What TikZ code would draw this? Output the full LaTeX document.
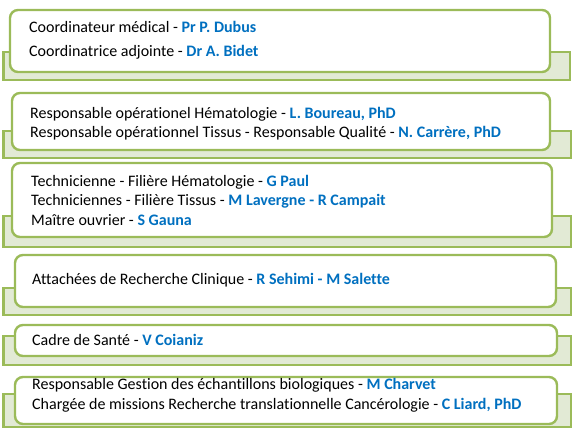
\documentclass[tikz,border=0pt]{standalone}
\usepackage{fontspec}
\setmainfont{Carlito}[Ligatures={NoCommon}]
\definecolor{boxgreen}{HTML}{9BBB59}
\definecolor{backfill}{HTML}{E2EAD5}
\definecolor{nameblue}{HTML}{0070C0}
\newcommand{\nm}[1]{\textcolor{nameblue}{\textbf{#1}}}
\begin{document}
\begin{tikzpicture}[x=1pt,y=-1pt,
  backbox/.style={draw=boxgreen,fill=backfill,line width=2.4pt},
  frontbox/.style={draw=boxgreen,fill=white,line width=2.4pt,rounded corners=8pt},
  txt/.style={anchor=base west,inner sep=0pt,font=\fontsize{16}{19}\selectfont,text=black}]
\useasboundingbox (0,0) rectangle (580,434);
% box 1
\draw[backbox] (3.5,52) rectangle (570,80);
\draw[frontbox] (10,10) rectangle (550,72);
\node[txt] (t11) at (29,32.5) {Coordinateur médical - \nm{Pr P. Dubus}};
\node[txt] (t12) at (29,56.5) {Coordinatrice adjointe - \nm{Dr A. Bidet}};
% box 2
\draw[backbox] (3.5,131) rectangle (571,158);
\draw[frontbox] (12,93) rectangle (550,150);
\node[txt] (t21) at (30,118) {Responsable opérationel Hématologie - \nm{L. Boureau, PhD}};
\node[txt] (t22) at (30,137) {Responsable opérationnel Tissus - Responsable Qualité - \nm{N. Carrère, PhD}};
% box 3
\draw[backbox] (3.5,216) rectangle (571,247);
\draw[frontbox] (12,163) rectangle (552,237);
\node[txt] (t31) at (31,186) {Technicienne - Filière Hématologie - \nm{G Paul}};
\node[txt] (t32) at (31,205.5) {Techniciennes - Filière Tissus - \nm{M Lavergne - R Campait}};
\node[txt] (t33) at (31,225) {Maître ouvrier - \nm{S Gauna}};
% box 4
\draw[backbox] (3.5,288) rectangle (571,315);
\draw[frontbox] (15,255) rectangle (556,307);
\node[txt] (t41) at (32,284) {Attachées de Recherche Clinique - \nm{R Sehimi - M Salette}};
% box 5
\draw[backbox] (3.5,336) rectangle (571,365);
\draw[frontbox] (15,325) rectangle (557,356);
\node[txt] (t51) at (32,345) {Cadre de Santé - \nm{V Coianiz}};
% box 6
\draw[backbox] (3.5,394) rectangle (571,427);
\draw[frontbox] (15,377) rectangle (557,424);
\node[txt] (t61) at (32,389) {Responsable Gestion des échantillons biologiques - \nm{M Charvet}};
\node[txt] (t62) at (32,409) {Chargée de missions Recherche translationnelle Cancérologie - \nm{C Liard, PhD}};
\end{tikzpicture}
\end{document}
